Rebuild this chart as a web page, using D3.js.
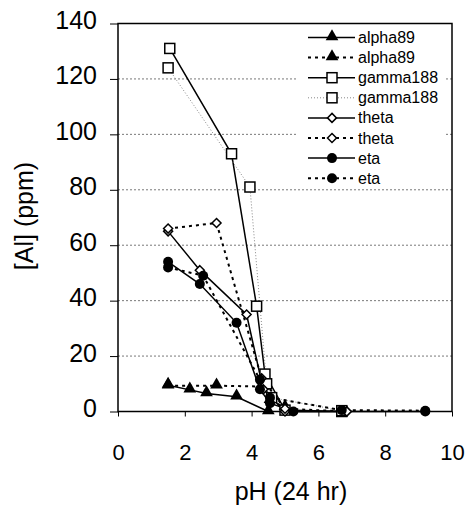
<!DOCTYPE html>
<html>
<head>
<meta charset="utf-8">
<script src="https://cdn.jsdelivr.net/npm/d3@7"></script>
<style>
  body { margin: 0; background: #fff; }
  text { font-family: "Liberation Sans", Arial, sans-serif; fill: #000; }
</style>
</head>
<body>
<script>
// data
var alpha89Solid = [[1.5, 9.5], [2.15, 7.8], [2.65, 6.5], [3.55, 5.3], [4.5, 0]];
var alpha89Dotted = [[1.5, 9.3], [2.95, 9.3], [4.35, 9.0], [4.55, 4], [5.0, 1.5]];
var gamma188Solid = [[1.55, 131], [3.4, 93], [4.15, 38], [4.4, 13.5], [5.0, 0.5], [6.7, 0]];
var gamma188Dotted = [[1.5, 124], [3.95, 81], [4.45, 10], [4.6, 5], [6.7, 0.3]];
var thetaSolid = [[1.5, 65], [2.45, 51], [3.85, 35], [4.35, 8], [5.0, 0], [6.85, 0]];
var thetaDotted = [[1.5, 66], [2.95, 68], [4.3, 12], [5.0, 1], [6.85, 0]];
var etaSolid = [[1.5, 54], [2.45, 46], [3.55, 32], [4.25, 8], [4.55, 3], [5.25, 0], [9.2, 0]];
var etaDotted = [[1.5, 52], [2.55, 49], [4.25, 11.5], [4.55, 5], [6.7, 0.5], [9.2, 0.3]];

var xTicks = [0, 2, 4, 6, 8, 10];
var yTicks = [0, 20, 40, 60, 80, 100, 120, 140];

var series = [
  { name: 'alpha89', data: alpha89Solid, marker: 'triangle', dash: null, color: '#000', width: 1.5 },
  { name: 'alpha89', data: alpha89Dotted, marker: 'triangle', dash: '3,4', color: '#000', width: 2 },
  { name: 'gamma188', data: gamma188Solid, marker: 'square', dash: null, color: '#000', width: 1.5 },
  { name: 'gamma188', data: gamma188Dotted, marker: 'square', dash: '1,2', color: '#888', width: 1 },
  { name: 'theta', data: thetaSolid, marker: 'diamond', dash: null, color: '#000', width: 1.5 },
  { name: 'theta', data: thetaDotted, marker: 'diamond', dash: '3,4', color: '#000', width: 2 },
  { name: 'eta', data: etaSolid, marker: 'circle', dash: null, color: '#000', width: 1.5 },
  { name: 'eta', data: etaDotted, marker: 'circle', dash: '3,4', color: '#000', width: 2 }
];

var W = 470, H = 507;
var pLeft = 118, pRight = 452, pTop = 23.5, pBottom = 411.5;
var font = '"Liberation Sans", Arial, sans-serif';

var svg = d3.select('body').append('svg')
  .attr('width', W).attr('height', H);

var x = d3.scaleLinear().domain([0, 10]).range([pLeft, pRight]);
var y = d3.scaleLinear().domain([0, 140]).range([pBottom, pTop]);

// gridlines
svg.append('g').selectAll('line')
  .data(yTicks.filter(d => d > 0 && d < 140))
  .join('line')
  .attr('x1', pLeft).attr('x2', pRight)
  .attr('y1', d => y(d)).attr('y2', d => y(d))
  .attr('stroke', '#555').attr('stroke-width', 0.8)
  .attr('stroke-dasharray', '2,2');

// legend background hides the gridlines behind it
var lg = svg.append('g');
lg.append('rect')
  .attr('x', 298).attr('y', 26).attr('width', 148).attr('height', 159)
  .attr('fill', '#fff');

// axes
svg.append('g')
  .attr('transform', 'translate(0,' + pBottom + ')')
  .call(d3.axisBottom(x).tickValues(xTicks).tickSize(5).tickPadding(28))
  .call(g => g.select('.domain').remove())
  .call(g => g.selectAll('text').style('font-size', '22px').style('font-family', font));

svg.append('g')
  .attr('transform', 'translate(' + pLeft + ',0)')
  .call(d3.axisLeft(y).tickValues(yTicks).tickSize(8).tickPadding(13))
  .call(g => g.select('.domain').remove())
  .call(g => g.selectAll('text').style('font-size', '25px').style('font-family', font).attr('dy', '0.2em'));

// plot frame
svg.append('rect')
  .attr('x', pLeft).attr('y', pTop)
  .attr('width', pRight - pLeft).attr('height', pBottom - pTop)
  .attr('fill', 'none').attr('stroke', '#000').attr('stroke-width', 1.5);

var line = d3.line().x(d => x(d[0])).y(d => y(d[1]));

function drawMarker(g, type, cx, cy) {
  if (type === 'triangle') {
    g.append('path')
      .attr('d', d3.symbol().type(d3.symbolTriangle).size(70)())
      .attr('transform', 'translate(' + cx + ',' + (cy - 1) + ')')
      .attr('fill', '#000');
  } else if (type === 'square') {
    g.append('rect')
      .attr('x', cx - 5).attr('y', cy - 5).attr('width', 10).attr('height', 10)
      .attr('fill', '#fff').attr('stroke', '#000').attr('stroke-width', 1.5);
  } else if (type === 'diamond') {
    g.append('path')
      .attr('d', 'M0,-4.5L4.5,0L0,4.5L-4.5,0Z')
      .attr('transform', 'translate(' + cx + ',' + cy + ')')
      .attr('fill', '#fff').attr('stroke', '#000').attr('stroke-width', 1.5);
  } else {
    g.append('circle')
      .attr('cx', cx).attr('cy', cy).attr('r', 5)
      .attr('fill', '#000');
  }
}

var plot = svg.append('g');
series.forEach(s => {
  plot.append('path')
    .attr('d', line(s.data))
    .attr('fill', 'none')
    .attr('stroke', s.color)
    .attr('stroke-width', s.width)
    .attr('stroke-dasharray', s.dash);
});
series.forEach(s => {
  s.data.forEach(d => drawMarker(plot, s.marker, x(d[0]), y(d[1])));
});

// legend entries
series.forEach((s, i) => {
  var ly = 37.5 + i * 20.1;
  lg.append('line')
    .attr('x1', 308).attr('x2', 355).attr('y1', ly).attr('y2', ly)
    .attr('stroke', s.color).attr('stroke-width', s.width)
    .attr('stroke-dasharray', s.dash);
  drawMarker(lg, s.marker, 332, ly);
  lg.append('text')
    .attr('x', 358).attr('y', ly + 5.5)
    .style('font-size', '16px')
    .text(s.name);
});

// axis titles
svg.append('text')
  .attr('x', 291).attr('y', 500)
  .attr('text-anchor', 'middle')
  .style('font-size', '25px')
  .text('pH (24 hr)');

svg.append('text')
  .attr('transform', 'translate(33,216) rotate(-90)')
  .attr('text-anchor', 'middle')
  .style('font-size', '25px')
  .text('[Al] (ppm)');
</script>
</body>
</html>
